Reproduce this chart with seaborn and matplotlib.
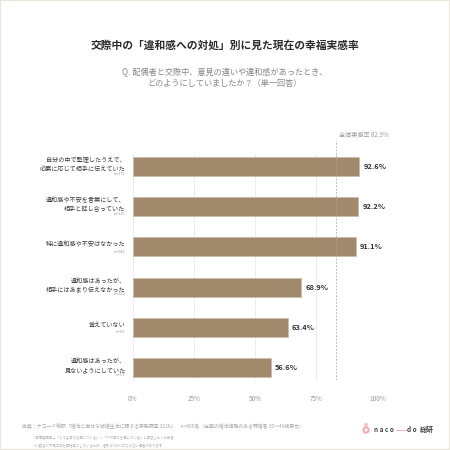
import matplotlib
matplotlib.use("Agg")
import matplotlib.pyplot as plt
from matplotlib.patches import Rectangle, Circle
import pandas as pd
import seaborn as sns

categories = ["自分の中で整理したうえで、\n必要に応じて相手に伝えていた",
              "違和感や不安を言葉にして、\n相手と話し合っていた",
              "特に違和感や不安はなかった",
              "違和感はあったが、\n相手にはあまり伝えなかった",
              "覚えていない",
              "違和感はあったが、\n見ないようにしていた"]
sample_sizes = ["n=271", "n=115", "n=146", "n=122", "n=93", "n=53"]
values = [92.6, 92.2, 91.1, 68.9, 63.4, 56.6]
overall = 82.9
x_ticks = [0, 25, 50, 75, 100]
title = "交際中の「違和感への対処」別に見た現在の幸福実感率"
subtitle = "Q. 配偶者と交際中、意見の違いや違和感があったとき、\nどのようにしていましたか？（単一回答）"
source = "出典：ナコード総研「婚活と幸せな結婚生活に関する実態調査 2026」　n=800名（全国の婚活経験のある既婚者 20～49歳男女）"
note1 = "※幸福実感率＝「とても幸せを感じている」＋「やや幸せを感じている」と回答した人の割合"
note2 = "※小数点以下第二位を四捨五入しているため、合計が100%にならない場合があります"

sns.set_theme(style="white")
plt.rcParams['font.family'] = ['Noto Sans CJK JP', 'DejaVu Sans']

W = H = 450
fig = plt.figure(figsize=(4.5, 4.5), dpi=100, facecolor="white")
L, R, T, B = 132.5, 377.5, 154, 380
ax = fig.add_axes([L / W, 1 - B / H, (R - L) / W, (B - T) / H])

df = pd.DataFrame({"cat": categories, "val": values})
sns.barplot(data=df, x="val", y="cat", orient="h", color="#a18a6c", saturation=1,
            width=0.473, edgecolor="#c9bca8", linewidth=0.5, ax=ax, zorder=3)
ax.set_xlim(0, 100)
ax.set_ylim(5.31, -0.31)
ax.set_xlabel("")
ax.set_ylabel("")
ax.set_xticks(x_ticks)
ax.set_xticklabels([f"{t}%" for t in x_ticks], fontsize=4.6, color="#999999")
ax.set_yticks([])
ax.tick_params(axis="x", length=0, pad=11)
for s in ax.spines.values():
    s.set_visible(False)
ax.grid(axis="x", color="#e9e9e9", linewidth=0.6, zorder=0)
ax.set_axisbelow(True)

for i, (c, n, v) in enumerate(zip(categories, sample_sizes, values)):
    ax.annotate(f"{v:.1f}%", (v, i), xytext=(2.8, 0), textcoords="offset points",
                ha="left", va="center", fontsize=5.4, fontweight="bold", color="#333333", zorder=5)
    lines = c.count("\n") + 1
    main_off = 1.4 if lines == 2 else 1.8
    ax.annotate(c, (0, i), xytext=(-5, main_off), textcoords="offset points", ha="right",
                va="center", fontsize=4.4, color="#3c3c3c", linespacing=1.25, annotation_clip=False)
    n_off = -5.3 if lines == 2 else -3.5
    ax.annotate(n, (0, i), xytext=(-5, n_off), textcoords="offset points", ha="right",
                va="center", fontsize=3.0, color="#999999", annotation_clip=False)

# overall reference line
ax.axvline(overall, ymin=0, ymax=1, color="#aaaaaa", linewidth=0.6, linestyle=(0, (2, 2)), zorder=4)
fig.add_artist(plt.Line2D([(L + overall / 100 * (R - L)) / W] * 2, [1 - 154 / H, 1 - 140 / H],
                          color="#aaaaaa", linewidth=0.6, linestyle=(0, (2, 2))))
fig.text(339 / W, 1 - 134 / H, f"全体実感率 {overall}%", fontsize=4.4, color="#999999", ha="left", va="center")

fig.text(225.5 / W, 1 - 45 / H, title, fontsize=7.75, fontweight="bold", color="#2b2b2b", ha="center", va="center")
fig.text(225 / W, 1 - 78 / H, subtitle, fontsize=5.9, color="#888888", ha="center", va="center", linespacing=1.3)

fig.text(22 / W, 1 - 426.5 / H, source, fontsize=3.55, color="#a8a8a8", ha="left", va="center")
fig.text(33 / W, 1 - 438 / H, note1, fontsize=2.45, color="#b0b0b0", ha="left", va="center")
fig.text(33 / W, 1 - 445.5 / H, note2, fontsize=2.45, color="#b0b0b0", ha="left", va="center")

# logo
fig.add_artist(Circle((366 / W, 1 - 430 / H), 2.6 / W, fill=False, edgecolor="#f2a9ad", linewidth=1.5))
fig.add_artist(Circle((366 / W, 1 - 425 / H), 1.4 / W, color="#f5c3c5"))
fig.text(374 / W, 1 - 429 / H, "n a c o", fontsize=4.6, color="#444444", ha="left", va="center", fontweight="bold")
fig.add_artist(plt.Line2D([396 / W, 407 / W], [1 - 430 / H, 1 - 430 / H], color="#f2a9ad", linewidth=0.6))
fig.text(407 / W, 1 - 429 / H, "d o", fontsize=4.6, color="#444444", ha="left", va="center", fontweight="bold")
fig.text(433.5 / W, 1 - 429 / H, "総研", fontsize=5.0, color="#444444", ha="right", va="center", fontweight="bold")

# page frame
fig.add_artist(Rectangle((0, 0), 1, 1, transform=fig.transFigure, fill=False,
                         edgecolor="#e8e6db", linewidth=1.6))

fig.savefig("out.png", dpi=100)
